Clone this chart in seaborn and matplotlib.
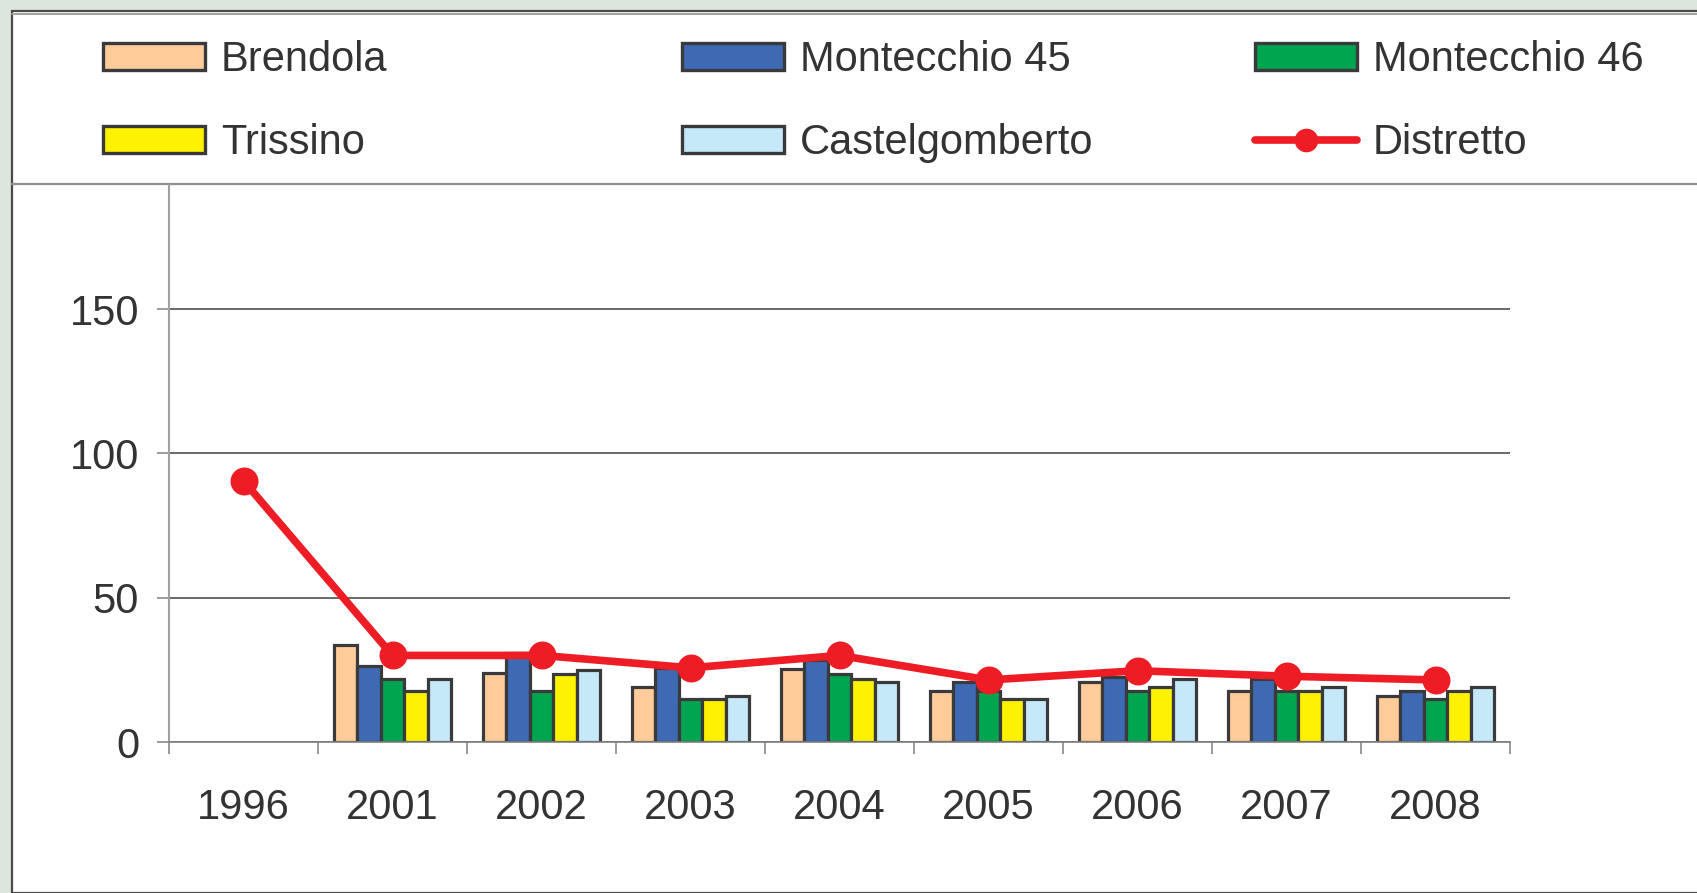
import matplotlib
matplotlib.use("Agg")
import matplotlib.pyplot as plt
import seaborn as sns
import pandas as pd
import numpy as np
from matplotlib.patches import Rectangle, Patch
from matplotlib.lines import Line2D

years = ["1996", "2001", "2002", "2003", "2004", "2005", "2006", "2007", "2008"]
brendola = [np.nan, 33.5, 23.8, 19.0, 25.2, 17.7, 20.7, 17.7, 16.0]
montecchio45 = [np.nan, 26.5, 31.0, 25.5, 28.4, 20.7, 22.5, 22.0, 17.7]
montecchio46 = [np.nan, 22.0, 17.7, 14.8, 23.5, 17.7, 17.7, 17.7, 14.8]
trissino = [np.nan, 17.7, 23.5, 14.8, 22.0, 14.8, 19.0, 17.7, 17.7]
castelgomberto = [np.nan, 22.0, 25.0, 16.0, 20.7, 14.8, 22.0, 19.0, 19.0]
distretto = [90.5, 30.0, 30.0, 25.7, 30.0, 21.5, 24.7, 22.8, 21.5]

series_names = ["Brendola", "Montecchio 45", "Montecchio 46", "Trissino", "Castelgomberto"]
series_values = [brendola, montecchio45, montecchio46, trissino, castelgomberto]
series_colors = ["#ffcc99", "#3d6ab3", "#00a550", "#fff200", "#c6e9f9"]
line_name = "Distretto"
line_color = "#ee1c25"
yticks = [0, 50, 100, 150]

rows = []
for name, vals in zip(series_names, series_values):
    for y, v in zip(years, vals):
        rows.append({"year": y, "series": name, "value": v})
df = pd.DataFrame(rows).dropna()
df_line = pd.DataFrame({"year": years, "value": distretto})

sns.set_theme(style="white")
plt.rcParams["font.family"] = ["Liberation Sans", "DejaVu Sans"]

W, H = 1697, 893
fig = plt.figure(figsize=(W / 100, H / 100), dpi=100, facecolor="#dce6dc")

# white panel
fig.patches.append(Rectangle((12 / W, 0), 1, 1 - 11 / H, transform=fig.transFigure,
                             facecolor="white", edgecolor="#4a4a4a", linewidth=1.6, zorder=-5))
fig.add_artist(Line2D([12 / W, 1], [1 - 14 / H, 1 - 14 / H], transform=fig.transFigure,
                      color="#a0a0a0", linewidth=1.4, zorder=-4))
fig.add_artist(Line2D([12 / W, 1], [1 - 184 / H, 1 - 184 / H], transform=fig.transFigure,
                      color="#909090", linewidth=1.6, zorder=-4))

left, right, top, bottom = 169, 1510, 185, 742
ax = fig.add_axes([left / W, 1 - bottom / H, (right - left) / W, (bottom - top) / H])
ax.set_facecolor("none")
ax.set_zorder(2)

sns.barplot(data=df, x="year", y="value", hue="series", order=years, hue_order=series_names,
            palette=series_colors, width=0.79, edgecolor="#3a3a3c", linewidth=2.3,
            saturation=1, legend=False, ax=ax, zorder=2)
sns.pointplot(data=df_line, x="year", y="value", order=years, color=line_color,
              markers="o", markersize=16, linewidth=5.5, errorbar=None, ax=ax)
for ln in ax.lines:
    ln.set_zorder(4)

ax.set_ylim(0, 193)
ax.set_xlim(-0.5, len(years) - 0.5)
ax.set_yticks(yticks)
ax.set_xlabel("")
ax.set_ylabel("")
ax.set_axisbelow(True)
ax.yaxis.grid(True, color="#404040", linewidth=1.1)
ax.xaxis.grid(False)
for s in ["top", "right"]:
    ax.spines[s].set_visible(False)
ax.spines["left"].set_color("#a0a0a0")
ax.spines["left"].set_linewidth(1.5)
ax.spines["bottom"].set_color("#808080")
ax.spines["bottom"].set_linewidth(1.2)

ax.tick_params(axis="y", direction="out", length=8.6, width=1.1, color="#808080",
               pad=13, labelsize=30, labelcolor="#333333", left=True)
ax.tick_params(axis="x", which="major", length=0, pad=33, labelsize=30, labelcolor="#333333")
ax.set_xticks(np.arange(-0.5, len(years), 1.0), minor=True)
ax.tick_params(axis="x", which="minor", direction="out", length=8.6, width=1.1,
               color="#808080", bottom=True)

# legends (three columns)
fs = 30
patch_handles = [Patch(facecolor=c, edgecolor="#3a3a3c", linewidth=2.4) for c in series_colors]
line_handle = Line2D([], [], color=line_color, linewidth=5.5, marker="o", markersize=16)
cols = [
    ([patch_handles[0], patch_handles[3]], [series_names[0], series_names[3]], 103),
    ([patch_handles[1], patch_handles[4]], [series_names[1], series_names[4]], 682),
    ([patch_handles[2], line_handle], [series_names[2], line_name], 1255),
]
for hs, ls, x0 in cols:
    fig.legend(hs, ls, loc="center left", bbox_to_anchor=(x0 / W, 1 - 101.5 / H),
               frameon=False, fontsize=fs, handlelength=2.45, handleheight=0.62,
               handletextpad=0.38, labelspacing=1.02, borderpad=0, borderaxespad=0,
               labelcolor="#333333")

fig.savefig("out.png", dpi=100, facecolor=fig.get_facecolor())
